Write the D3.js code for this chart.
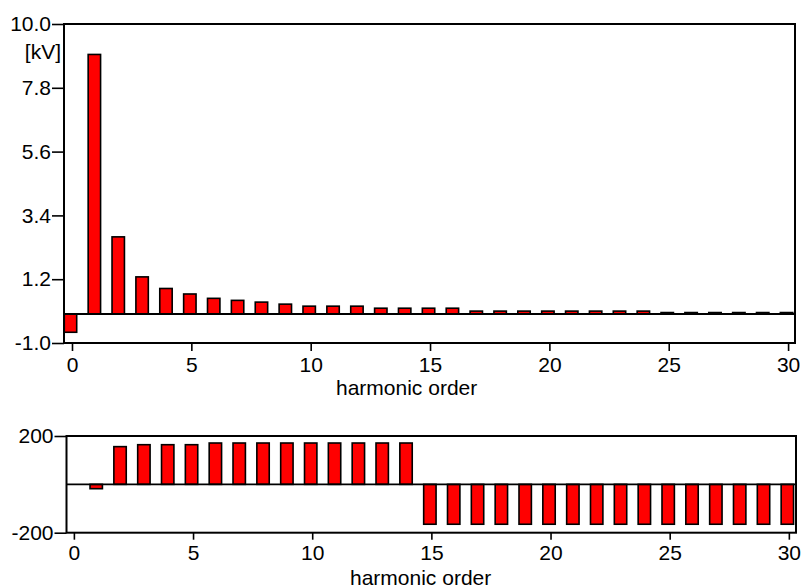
<!DOCTYPE html>
<html>
<head>
<meta charset="utf-8">
<script src="https://cdn.jsdelivr.net/npm/d3@7"></script>
<style>
  body { margin: 0; background: #fff; }
  svg { display: block; }
  text { font-family: "Liberation Sans", Arial, sans-serif; font-size: 21px; fill: #000; }
</style>
</head>
<body>
<svg width="802" height="588"></svg>
<script>
(function() {

// harmonic orders shown on both panels
var orders = [0, 1, 2, 3, 4, 5, 6, 7, 8, 9, 10, 11, 12, 13, 14, 15,
              16, 17, 18, 19, 20, 21, 22, 23, 24, 25, 26, 27, 28, 29, 30];

// magnitude per harmonic, kV
var magnitudeKV = [-0.63, 8.95, 2.66, 1.28, 0.88, 0.69, 0.54, 0.47, 0.41, 0.34,
                   0.27, 0.27, 0.27, 0.2, 0.2, 0.2, 0.2,
                   0.1, 0.1, 0.1, 0.1, 0.1, 0.1, 0.1, 0.1,
                   0.05, 0.05, 0.05, 0.05, 0.05, 0.05];

// phase angle per harmonic, deg
var phaseDeg = [0, -18, 156, 164, 164, 164, 171, 171, 171, 171, 171, 171, 171, 171, 171,
                -165, -165, -165, -165, -165, -165, -165, -165,
                -165, -165, -165, -165, -165, -165, -165, -165];

var xTicks = [0, 5, 10, 15, 20, 25, 30];
var magTicks = [-1.0, 1.2, 3.4, 5.6, 7.8, 10.0];
var phaseTicks = [-200, 200];

var svg = d3.select("svg");

function panel(opts) {
    var x = d3.scaleLinear().domain(opts.xDomain).range([opts.left, opts.right]);
    var y = d3.scaleLinear().domain(opts.yDomain).range([opts.bottom, opts.top]);
    var g = svg.append("g");
    var barW = x(0.52) - x(0);

    g.append("g").attr("class", "bars")
        .selectAll("rect")
        .data(orders.map(function(o, i) { return {order: o, value: opts.values[i]}; }))
        .enter()
        .append("rect")
        .attr("x", function(d) { return x(d.order) - barW / 2 - 1.5; })
        .attr("y", function(d) { return y(Math.max(0, d.value)); })
        .attr("width", barW)
        .attr("height", function(d) { return Math.abs(y(d.value) - y(0)); })
        .attr("fill", "#ff0000")
        .attr("stroke", "#000")
        .attr("stroke-width", 1.6)
        .style("display", function(d) { return d.value === 0 ? "none" : null; });

    // zero line
    g.append("line")
        .attr("x1", opts.left).attr("x2", opts.right)
        .attr("y1", y(0)).attr("y2", y(0))
        .attr("stroke", "#000").attr("stroke-width", 1.8);

    // frame
    g.append("rect")
        .attr("x", opts.left).attr("y", opts.top)
        .attr("width", opts.right - opts.left)
        .attr("height", opts.bottom - opts.top)
        .attr("fill", "none").attr("stroke", "#000").attr("stroke-width", 2);

    var yAxis = g.append("g")
        .attr("transform", "translate(" + opts.left + ",0)")
        .call(d3.axisLeft(y).tickValues(opts.yTicks).tickSize(12).tickPadding(1)
            .tickFormat(opts.yFormat));
    yAxis.select(".domain").remove();

    var xAxis = g.append("g")
        .attr("transform", "translate(0," + opts.bottom + ")")
        .call(d3.axisBottom(x).tickValues(xTicks).tickSize(opts.xTickSize).tickPadding(opts.xTickPad));
    xAxis.select(".domain").remove();

    g.selectAll(".tick line").attr("stroke", "#000").attr("stroke-width", 1.6);
    g.selectAll(".tick text").style("font-size", "21px").style("font-family", "'Liberation Sans', Arial, sans-serif");

    g.append("text")
        .attr("x", opts.titleX).attr("y", opts.titleY)
        .text("harmonic order");

    return g;
}

var top = panel({
    left: 64, right: 795, top: 24, bottom: 343,
    xDomain: [-0.335, 30.29], yDomain: [-1, 10],
    values: magnitudeKV, yTicks: magTicks,
    yFormat: function(d) { return d.toFixed(1); },
    xTickSize: 8, xTickPad: 6,
    titleX: 336, titleY: 395
});

top.append("text")
    .attr("x", 61).attr("y", 59)
    .attr("text-anchor", "end")
    .text("[kV]");

panel({
    left: 66.5, right: 796, top: 436, bottom: 532.7,
    xDomain: [-0.31, 30.3], yDomain: [-200, 200],
    values: phaseDeg, yTicks: phaseTicks,
    yFormat: function(d) { return String(d); },
    xTickSize: 7, xTickPad: 5,
    titleX: 350, titleY: 585
});

})();
</script>
</body>
</html>
